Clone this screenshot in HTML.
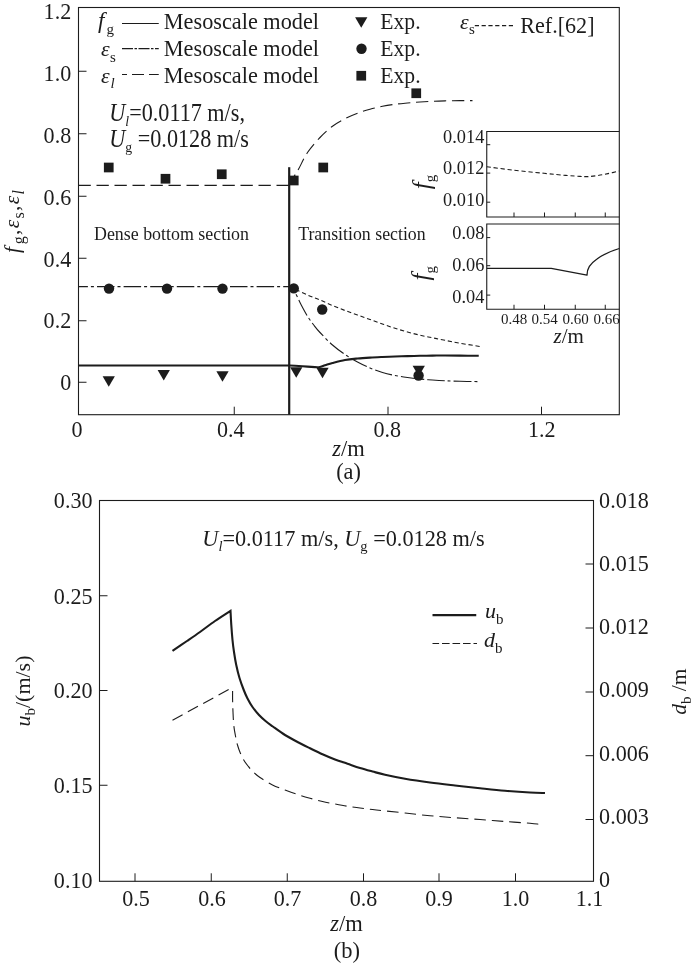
<!DOCTYPE html>
<html lang="en">
<head>
<meta charset="utf-8">
<title>Figure</title>
<style>
html,body{margin:0;padding:0;background:#fff;}
svg{display:block;}
text{font-family:"Liberation Serif","DejaVu Serif",serif;fill:#1c1c1c;}
</style>
</head>
<body>
<svg width="700" height="965" viewBox="0 0 700 965">
<rect x="0" y="0" width="700" height="965" fill="#fff"/>
<rect x="78.5" y="7.5" width="540.8" height="407.2" fill="none" stroke="#1c1c1c" stroke-width="1.1"/>
<line x1="78.5" y1="71.25" x2="86.5" y2="71.25" stroke="#1c1c1c" stroke-width="1.0"/>
<line x1="78.5" y1="133.75" x2="86.5" y2="133.75" stroke="#1c1c1c" stroke-width="1.0"/>
<line x1="78.5" y1="196.25" x2="86.5" y2="196.25" stroke="#1c1c1c" stroke-width="1.0"/>
<line x1="78.5" y1="258.25" x2="86.5" y2="258.25" stroke="#1c1c1c" stroke-width="1.0"/>
<line x1="78.5" y1="320.75" x2="86.5" y2="320.75" stroke="#1c1c1c" stroke-width="1.0"/>
<line x1="78.5" y1="382.25" x2="86.5" y2="382.25" stroke="#1c1c1c" stroke-width="1.0"/>
<line x1="234.25" y1="414.7" x2="234.25" y2="406.7" stroke="#1c1c1c" stroke-width="1.0"/>
<line x1="388" y1="414.7" x2="388" y2="406.7" stroke="#1c1c1c" stroke-width="1.0"/>
<line x1="541.5" y1="414.7" x2="541.5" y2="406.7" stroke="#1c1c1c" stroke-width="1.0"/>
<text transform="translate(71.2 18.75) scale(0.94 1)" font-size="23.5" text-anchor="end">1.2</text>
<text transform="translate(71.2 80.5) scale(0.94 1)" font-size="23.5" text-anchor="end">1.0</text>
<text transform="translate(71.2 142.5) scale(0.94 1)" font-size="23.5" text-anchor="end">0.8</text>
<text transform="translate(71.2 204.5) scale(0.94 1)" font-size="23.5" text-anchor="end">0.6</text>
<text transform="translate(71.2 267) scale(0.94 1)" font-size="23.5" text-anchor="end">0.4</text>
<text transform="translate(71.2 328.25) scale(0.94 1)" font-size="23.5" text-anchor="end">0.2</text>
<text transform="translate(71.2 390) scale(0.94 1)" font-size="23.5" text-anchor="end">0</text>
<text transform="translate(77 436.5) scale(0.94 1)" font-size="23.5" text-anchor="middle">0</text>
<text transform="translate(230.8 436.5) scale(0.94 1)" font-size="23.5" text-anchor="middle">0.4</text>
<text transform="translate(387.2 436.5) scale(0.94 1)" font-size="23.5" text-anchor="middle">0.8</text>
<text transform="translate(541.8 436.5) scale(0.94 1)" font-size="23.5" text-anchor="middle">1.2</text>
<text x="348.5" y="455.7" font-size="22.5" text-anchor="middle"><tspan font-style="italic">z</tspan>/m</text>
<text x="348.5" y="479" font-size="22.3" text-anchor="middle">(a)</text>
<text transform="translate(18.8 253) rotate(-90)" font-size="21.5" textLength="63" lengthAdjust="spacing"><tspan font-style="italic">f</tspan><tspan font-size="16" dy="5" dx="1.5">g</tspan><tspan dy="-5">,</tspan><tspan font-style="italic">ε</tspan><tspan font-size="16" dy="5">s</tspan><tspan dy="-5">,</tspan><tspan font-style="italic">ε</tspan><tspan font-size="16" font-style="italic" dy="5">l</tspan></text>
<line x1="289.2" y1="167.2" x2="289.2" y2="414.7" stroke="#1c1c1c" stroke-width="2.2"/>
<path d="M78.5,185.4L289,185.4" fill="none" stroke="#1c1c1c" stroke-width="1.1" stroke-dasharray="12.3 5.7" stroke-linecap="butt" stroke-linejoin="round"/>
<path d="M289.25,185.40C289.96,184.08 291.92,180.28 293.50,177.50C295.08,174.72 296.42,172.92 298.75,168.75C301.08,164.58 303.96,157.71 307.50,152.50C311.04,147.29 315.83,141.88 320.00,137.50C324.17,133.12 328.33,129.38 332.50,126.25C336.67,123.12 340.83,120.92 345.00,118.75C349.17,116.58 353.33,114.83 357.50,113.25C361.67,111.67 365.83,110.42 370.00,109.25C374.17,108.08 378.33,107.08 382.50,106.25C386.67,105.42 390.83,104.79 395.00,104.25C399.17,103.71 403.33,103.38 407.50,103.00C411.67,102.62 415.83,102.29 420.00,102.00C424.17,101.71 428.33,101.44 432.50,101.25C436.67,101.06 440.42,100.96 445.00,100.85C449.58,100.74 455.42,100.64 460.00,100.60C464.58,100.56 470.42,100.60 472.50,100.60" fill="none" stroke="#1c1c1c" stroke-width="1.1" stroke-dasharray="12.3 5.7" stroke-linecap="butt" stroke-linejoin="round"/>
<path d="M78.5,286.6L289,286.6" fill="none" stroke="#1c1c1c" stroke-width="1.1" stroke-dasharray="17.5 3 3 3.1" stroke-dashoffset="8.1"/>
<path d="M289.25,286.60C290.21,287.58 293.00,289.43 295.00,292.50C297.00,295.57 299.17,301.04 301.25,305.00C303.33,308.96 305.42,312.92 307.50,316.25C309.58,319.58 311.67,322.29 313.75,325.00C315.83,327.71 316.88,329.17 320.00,332.50C323.12,335.83 328.33,341.33 332.50,345.00C336.67,348.67 340.83,351.67 345.00,354.50C349.17,357.33 353.33,359.75 357.50,362.00C361.67,364.25 365.83,366.25 370.00,368.00C374.17,369.75 378.33,371.25 382.50,372.50C386.67,373.75 390.83,374.67 395.00,375.50C399.17,376.33 403.33,376.92 407.50,377.50C411.67,378.08 415.83,378.58 420.00,379.00C424.17,379.42 428.33,379.71 432.50,380.00C436.67,380.29 440.42,380.53 445.00,380.75C449.58,380.97 454.58,381.16 460.00,381.30C465.42,381.44 474.58,381.55 477.50,381.60" fill="none" stroke="#1c1c1c" stroke-width="1.1" stroke-dasharray="17.5 3 3 3.1" stroke-dashoffset="10"/>
<path d="M289.25,286.80C290.00,287.12 290.71,287.38 293.75,288.75C296.79,290.12 303.12,293.12 307.50,295.00C311.88,296.88 315.83,298.25 320.00,300.00C324.17,301.75 328.33,303.75 332.50,305.50C336.67,307.25 340.83,308.92 345.00,310.50C349.17,312.08 353.33,313.50 357.50,315.00C361.67,316.50 365.83,318.00 370.00,319.50C374.17,321.00 378.33,322.53 382.50,324.00C386.67,325.47 390.83,326.97 395.00,328.30C399.17,329.63 403.33,330.85 407.50,332.00C411.67,333.15 415.83,334.23 420.00,335.20C424.17,336.17 428.33,336.95 432.50,337.80C436.67,338.65 440.42,339.40 445.00,340.30C449.58,341.20 454.17,342.17 460.00,343.20C465.83,344.23 476.67,345.95 480.00,346.50" fill="none" stroke="#1c1c1c" stroke-width="1.1" stroke-dasharray="4.2 2.8" stroke-linecap="butt" stroke-linejoin="round"/>
<path d="M78.5,365.5L289.00,365.50C290.00,365.54 291.92,365.57 295.00,365.75C298.08,365.93 303.54,366.36 307.50,366.60C311.46,366.84 315.83,367.42 318.75,367.20C321.67,366.98 322.71,366.00 325.00,365.30C327.29,364.60 329.17,363.88 332.50,363.00C335.83,362.12 340.83,360.75 345.00,360.00C349.17,359.25 353.33,358.90 357.50,358.50C361.67,358.10 365.83,357.85 370.00,357.60C374.17,357.35 378.33,357.18 382.50,357.00C386.67,356.82 390.83,356.65 395.00,356.50C399.17,356.35 403.33,356.22 407.50,356.10C411.67,355.98 415.83,355.88 420.00,355.80C424.17,355.72 428.33,355.65 432.50,355.60C436.67,355.55 440.42,355.50 445.00,355.50C449.58,355.50 454.38,355.55 460.00,355.60C465.62,355.65 475.62,355.77 478.75,355.80" fill="none" stroke="#1c1c1c" stroke-width="2.1" stroke-linecap="butt" stroke-linejoin="round"/>
<rect x="103.90" y="162.65" width="9.7" height="9.7" fill="#1c1c1c"/>
<rect x="160.65" y="173.90" width="9.7" height="9.7" fill="#1c1c1c"/>
<rect x="216.90" y="169.40" width="9.7" height="9.7" fill="#1c1c1c"/>
<rect x="288.90" y="175.65" width="9.7" height="9.7" fill="#1c1c1c"/>
<rect x="318.40" y="162.65" width="9.7" height="9.7" fill="#1c1c1c"/>
<rect x="411.40" y="88.40" width="9.7" height="9.7" fill="#1c1c1c"/>
<circle cx="109" cy="288.6" r="5.2" fill="#1c1c1c"/>
<circle cx="167" cy="288.6" r="5.2" fill="#1c1c1c"/>
<circle cx="222.5" cy="288.6" r="5.2" fill="#1c1c1c"/>
<circle cx="293.75" cy="288.4" r="5.2" fill="#1c1c1c"/>
<circle cx="322.2" cy="309.5" r="5.2" fill="#1c1c1c"/>
<circle cx="418.6" cy="375.5" r="5.2" fill="#1c1c1c"/>
<path d="M102.60,376.35L114.90,376.35L108.75,386.85Z" fill="#1c1c1c"/>
<path d="M157.60,370.05L169.90,370.05L163.75,380.55Z" fill="#1c1c1c"/>
<path d="M216.35,371.35L228.65,371.35L222.50,381.85Z" fill="#1c1c1c"/>
<path d="M290.10,367.35L302.40,367.35L296.25,377.85Z" fill="#1c1c1c"/>
<path d="M316.35,367.75L328.65,367.75L322.50,378.25Z" fill="#1c1c1c"/>
<path d="M412.60,365.75L424.90,365.75L418.75,376.25Z" fill="#1c1c1c"/>
<text x="98" y="27.8" font-size="23"><tspan font-style="italic">f</tspan><tspan font-size="15" dy="6.5" dx="2">g</tspan></text>
<text x="101" y="56" font-size="22"><tspan font-style="italic">ε</tspan><tspan font-size="15" dy="5.6" dx="0.3">s</tspan></text>
<text x="101" y="83" font-size="22"><tspan font-style="italic">ε</tspan><tspan font-size="15" dy="5.2" dx="0.8" font-style="italic">l</tspan></text>
<line x1="122" y1="23.5" x2="158.75" y2="23.5" stroke="#1c1c1c" stroke-width="1.1"/>
<line x1="122" y1="48.6" x2="158.75" y2="48.6" stroke="#1c1c1c" stroke-width="1.1" stroke-dasharray="11 1.5 2.5 1.5"/>
<line x1="122" y1="74.5" x2="158.75" y2="74.5" stroke="#1c1c1c" stroke-width="1.1" stroke-dasharray="12 5" stroke-dashoffset="7"/>
<text x="163.8" y="28.5" font-size="22.3" text-anchor="start" textLength="155.2" lengthAdjust="spacingAndGlyphs">Mesoscale model</text>
<text x="163.8" y="55.5" font-size="22.3" text-anchor="start" textLength="155.2" lengthAdjust="spacingAndGlyphs">Mesoscale model</text>
<text x="163.8" y="82.6" font-size="22.3" text-anchor="start" textLength="155.2" lengthAdjust="spacingAndGlyphs">Mesoscale model</text>
<path d="M355.10,17.25L367.40,17.25L361.25,27.75Z" fill="#1c1c1c"/>
<circle cx="361.5" cy="48.75" r="5.2" fill="#1c1c1c"/>
<rect x="356.40" y="70.90" width="9.7" height="9.7" fill="#1c1c1c"/>
<text x="380.3" y="28.8" font-size="22.3" text-anchor="start" textLength="40.3" lengthAdjust="spacingAndGlyphs">Exp.</text>
<text x="380.3" y="55.8" font-size="22.3" text-anchor="start" textLength="40.3" lengthAdjust="spacingAndGlyphs">Exp.</text>
<text x="380.3" y="82.8" font-size="22.3" text-anchor="start" textLength="40.3" lengthAdjust="spacingAndGlyphs">Exp.</text>
<text x="460" y="28.6" font-size="22"><tspan font-style="italic">ε</tspan><tspan font-size="15" dy="5.6" dx="0.3">s</tspan></text>
<line x1="474.8" y1="25.6" x2="515.3" y2="25.6" stroke="#1c1c1c" stroke-width="1.1" stroke-dasharray="4.2 2.6"/>
<text x="520.3" y="33.4" font-size="23.4" text-anchor="start" textLength="74.2" lengthAdjust="spacingAndGlyphs">Ref.[62]</text>
<text transform="translate(109.3 120.7) scale(0.917 1)" font-size="24.2"><tspan font-style="italic">U</tspan><tspan font-size="15" dy="5" font-style="italic">l</tspan><tspan dy="-5">=0.0117 m/s,</tspan></text>
<text transform="translate(109.3 146.6) scale(0.917 1)" font-size="24.2"><tspan font-style="italic">U</tspan><tspan font-size="15" dy="5">g</tspan><tspan dy="-5"> =0.0128 m/s</tspan></text>
<text x="94" y="239.7" font-size="17.8" text-anchor="start" textLength="155" lengthAdjust="spacingAndGlyphs">Dense bottom section</text>
<text x="298.2" y="239.7" font-size="17.8" text-anchor="start" textLength="127.5" lengthAdjust="spacingAndGlyphs">Transition section</text>
<path d="M619.3,131.5L486.75,131.5L486.75,217L619.3,217" fill="none" stroke="#1c1c1c" stroke-width="1.1"/>
<path d="M619.3,224L486.75,224L486.75,309.25L619.3,309.25" fill="none" stroke="#1c1c1c" stroke-width="1.1"/>
<line x1="514" y1="217" x2="514" y2="212.5" stroke="#1c1c1c" stroke-width="1.0"/>
<line x1="514" y1="309.25" x2="514" y2="304.75" stroke="#1c1c1c" stroke-width="1.0"/>
<line x1="544.5" y1="217" x2="544.5" y2="212.5" stroke="#1c1c1c" stroke-width="1.0"/>
<line x1="544.5" y1="309.25" x2="544.5" y2="304.75" stroke="#1c1c1c" stroke-width="1.0"/>
<line x1="575.25" y1="217" x2="575.25" y2="212.5" stroke="#1c1c1c" stroke-width="1.0"/>
<line x1="575.25" y1="309.25" x2="575.25" y2="304.75" stroke="#1c1c1c" stroke-width="1.0"/>
<line x1="605.25" y1="217" x2="605.25" y2="212.5" stroke="#1c1c1c" stroke-width="1.0"/>
<line x1="605.25" y1="309.25" x2="605.25" y2="304.75" stroke="#1c1c1c" stroke-width="1.0"/>
<line x1="486.75" y1="144.7" x2="490.25" y2="144.7" stroke="#1c1c1c" stroke-width="1.0"/>
<line x1="486.75" y1="173.1" x2="490.25" y2="173.1" stroke="#1c1c1c" stroke-width="1.0"/>
<line x1="486.75" y1="202.2" x2="490.25" y2="202.2" stroke="#1c1c1c" stroke-width="1.0"/>
<line x1="486.75" y1="237.6" x2="490.25" y2="237.6" stroke="#1c1c1c" stroke-width="1.0"/>
<line x1="486.75" y1="265.7" x2="490.25" y2="265.7" stroke="#1c1c1c" stroke-width="1.0"/>
<line x1="486.75" y1="295.1" x2="490.25" y2="295.1" stroke="#1c1c1c" stroke-width="1.0"/>
<text transform="translate(484.3 143) scale(1.03 1)" font-size="17.8" text-anchor="end">0.014</text>
<text transform="translate(484.3 173.75) scale(1.03 1)" font-size="17.8" text-anchor="end">0.012</text>
<text transform="translate(484.3 205.5) scale(1.03 1)" font-size="17.8" text-anchor="end">0.010</text>
<text transform="translate(484.3 238.75) scale(1.03 1)" font-size="17.8" text-anchor="end">0.08</text>
<text transform="translate(484.3 271.25) scale(1.03 1)" font-size="17.8" text-anchor="end">0.06</text>
<text transform="translate(484.3 302.5) scale(1.03 1)" font-size="17.8" text-anchor="end">0.04</text>
<text x="514" y="324.2" font-size="15" text-anchor="middle">0.48</text>
<text x="544.7" y="324.2" font-size="15" text-anchor="middle">0.54</text>
<text x="575.5" y="324.2" font-size="15" text-anchor="middle">0.60</text>
<text x="606.6" y="324.2" font-size="15" text-anchor="middle">0.66</text>
<text x="568.75" y="342.5" font-size="21" text-anchor="middle"><tspan font-style="italic">z</tspan>/m</text>
<text transform="translate(429.6 189.3) rotate(-90)" font-size="25"><tspan font-style="italic">f</tspan><tspan font-size="15" dy="5.8" dx="0.2">g</tspan></text>
<text transform="translate(429.4 280.6) rotate(-90)" font-size="25"><tspan font-style="italic">f</tspan><tspan font-size="15" dy="5.8" dx="0.2">g</tspan></text>
<path d="M486.75,166.70C490.96,167.25 502.46,168.90 512.00,170.00C521.54,171.10 535.05,172.40 544.00,173.30C552.95,174.20 559.70,174.88 565.70,175.40C571.70,175.92 576.28,176.20 580.00,176.40C583.72,176.60 585.03,176.75 588.00,176.60C590.97,176.45 594.47,176.00 597.80,175.50C601.13,175.00 604.42,174.35 608.00,173.60C611.58,172.85 617.42,171.43 619.30,171.00" fill="none" stroke="#1c1c1c" stroke-width="1.1" stroke-dasharray="4.2 2.8" stroke-linecap="butt" stroke-linejoin="round"/>
<path d="M486.75,268.3L551.25,268.3L587,275.2C587,268 590,264 597,259C603,254.5 611,251 619.3,248.5" fill="none" stroke="#1c1c1c" stroke-width="1.3" stroke-linecap="butt" stroke-linejoin="round"/>
<rect x="99.5" y="500.5" width="494.0" height="380.79999999999995" fill="none" stroke="#1c1c1c" stroke-width="1.1"/>
<line x1="99.5" y1="595.75" x2="107.5" y2="595.75" stroke="#1c1c1c" stroke-width="1.0"/>
<line x1="99.5" y1="690.5" x2="107.5" y2="690.5" stroke="#1c1c1c" stroke-width="1.0"/>
<line x1="99.5" y1="785.25" x2="107.5" y2="785.25" stroke="#1c1c1c" stroke-width="1.0"/>
<line x1="593.5" y1="564" x2="585.5" y2="564" stroke="#1c1c1c" stroke-width="1.0"/>
<line x1="593.5" y1="628" x2="585.5" y2="628" stroke="#1c1c1c" stroke-width="1.0"/>
<line x1="593.5" y1="692" x2="585.5" y2="692" stroke="#1c1c1c" stroke-width="1.0"/>
<line x1="593.5" y1="755.7" x2="585.5" y2="755.7" stroke="#1c1c1c" stroke-width="1.0"/>
<line x1="593.5" y1="819.5" x2="585.5" y2="819.5" stroke="#1c1c1c" stroke-width="1.0"/>
<line x1="135" y1="881.3" x2="135" y2="873.3" stroke="#1c1c1c" stroke-width="1.0"/>
<line x1="211.25" y1="881.3" x2="211.25" y2="873.3" stroke="#1c1c1c" stroke-width="1.0"/>
<line x1="287.25" y1="881.3" x2="287.25" y2="873.3" stroke="#1c1c1c" stroke-width="1.0"/>
<line x1="363.5" y1="881.3" x2="363.5" y2="873.3" stroke="#1c1c1c" stroke-width="1.0"/>
<line x1="439" y1="881.3" x2="439" y2="873.3" stroke="#1c1c1c" stroke-width="1.0"/>
<line x1="515.5" y1="881.3" x2="515.5" y2="873.3" stroke="#1c1c1c" stroke-width="1.0"/>
<text transform="translate(92.5 508.25) scale(0.94 1)" font-size="23.5" text-anchor="end">0.30</text>
<text transform="translate(92.5 604) scale(0.94 1)" font-size="23.5" text-anchor="end">0.25</text>
<text transform="translate(92.5 697.5) scale(0.94 1)" font-size="23.5" text-anchor="end">0.20</text>
<text transform="translate(92.5 792.5) scale(0.94 1)" font-size="23.5" text-anchor="end">0.15</text>
<text transform="translate(92.5 887.5) scale(0.94 1)" font-size="23.5" text-anchor="end">0.10</text>
<text transform="translate(599.1 507.5) scale(0.94 1)" font-size="23.5" text-anchor="start">0.018</text>
<text transform="translate(599.1 570.75) scale(0.94 1)" font-size="23.5" text-anchor="start">0.015</text>
<text transform="translate(599.1 633.75) scale(0.94 1)" font-size="23.5" text-anchor="start">0.012</text>
<text transform="translate(599.1 697) scale(0.94 1)" font-size="23.5" text-anchor="start">0.009</text>
<text transform="translate(599.1 760.5) scale(0.94 1)" font-size="23.5" text-anchor="start">0.006</text>
<text transform="translate(599.1 823.75) scale(0.94 1)" font-size="23.5" text-anchor="start">0.003</text>
<text transform="translate(599.1 887) scale(0.94 1)" font-size="23.5" text-anchor="start">0</text>
<text transform="translate(136 906.1) scale(0.94 1)" font-size="23.5" text-anchor="middle">0.5</text>
<text transform="translate(212 906.1) scale(0.94 1)" font-size="23.5" text-anchor="middle">0.6</text>
<text transform="translate(287.5 906.1) scale(0.94 1)" font-size="23.5" text-anchor="middle">0.7</text>
<text transform="translate(363.5 906.1) scale(0.94 1)" font-size="23.5" text-anchor="middle">0.8</text>
<text transform="translate(439 906.1) scale(0.94 1)" font-size="23.5" text-anchor="middle">0.9</text>
<text transform="translate(515.5 906.1) scale(0.94 1)" font-size="23.5" text-anchor="middle">1.0</text>
<text transform="translate(589.5 906.1) scale(0.94 1)" font-size="23.5" text-anchor="middle">1.1</text>
<text x="346.5" y="930.5" font-size="22.5" text-anchor="middle"><tspan font-style="italic">z</tspan>/m</text>
<text x="346.8" y="958" font-size="22.5" text-anchor="middle">(b)</text>
<text transform="translate(202.3 546.4) scale(0.969 1)" font-size="23"><tspan font-style="italic">U</tspan><tspan font-size="15" dy="5" font-style="italic">l</tspan><tspan dy="-5">=0.0117 m/s, </tspan><tspan font-style="italic">U</tspan><tspan font-size="15" dy="5">g</tspan><tspan dy="-5"> =0.0128 m/s</tspan></text>
<line x1="432.5" y1="615.1" x2="476.25" y2="615.1" stroke="#1c1c1c" stroke-width="2.4"/>
<line x1="432.5" y1="643.5" x2="477" y2="643.5" stroke="#1c1c1c" stroke-width="1.1" stroke-dasharray="7.6 2.9" stroke-dashoffset="1"/>
<text x="485" y="617.5" font-size="22"><tspan font-style="italic">u</tspan><tspan font-size="15" dy="6">b</tspan></text>
<text x="484" y="647" font-size="22"><tspan font-style="italic">d</tspan><tspan font-size="15" dy="6">b</tspan></text>
<text transform="translate(29.7 726.5) rotate(-90)" font-size="22" textLength="71" lengthAdjust="spacing"><tspan font-style="italic">u</tspan><tspan font-size="15" dy="5">b</tspan><tspan dy="-5">/(m/s)</tspan></text>
<text transform="translate(685.8 714.8) rotate(-90)" font-size="21.5"><tspan font-style="italic">d</tspan><tspan font-size="15" dy="5">b</tspan><tspan dy="-5"> /m</tspan></text>
<path d="M172.50,650.80C174.92,649.17 182.42,644.13 187.00,641.00C191.58,637.87 195.33,635.33 200.00,632.00C204.67,628.67 209.92,624.53 215.00,621.00C220.08,617.47 227.92,612.50 230.50,610.80L230.50,610.80C230.63,613.17 230.97,620.13 231.30,625.00C231.63,629.87 232.05,635.50 232.50,640.00C232.95,644.50 233.38,647.83 234.00,652.00C234.62,656.17 235.33,660.67 236.25,665.00C237.17,669.33 238.25,673.83 239.50,678.00C240.75,682.17 242.42,686.58 243.75,690.00C245.08,693.42 246.04,695.67 247.50,698.50C248.96,701.33 250.58,704.25 252.50,707.00C254.42,709.75 256.83,712.67 259.00,715.00C261.17,717.33 263.25,719.12 265.50,721.00C267.75,722.88 269.25,723.92 272.50,726.25C275.75,728.58 280.83,732.38 285.00,735.00C289.17,737.62 293.33,739.79 297.50,742.00C301.67,744.21 305.83,746.21 310.00,748.25C314.17,750.29 318.33,752.38 322.50,754.25C326.67,756.12 330.83,757.92 335.00,759.50C339.17,761.08 343.33,762.33 347.50,763.75C351.67,765.17 355.83,766.71 360.00,768.00C364.17,769.29 368.33,770.38 372.50,771.50C376.67,772.62 379.58,773.54 385.00,774.75C390.42,775.96 397.50,777.46 405.00,778.75C412.50,780.04 421.67,781.38 430.00,782.50C438.33,783.62 446.67,784.54 455.00,785.50C463.33,786.46 471.67,787.38 480.00,788.25C488.33,789.12 496.67,790.04 505.00,790.75C513.33,791.46 523.33,792.12 530.00,792.50C536.67,792.88 542.50,792.92 545.00,793.00" fill="none" stroke="#1c1c1c" stroke-width="2.1" stroke-linecap="butt" stroke-linejoin="miter"/>
<path d="M172.5,720.2L230.5,688.5" fill="none" stroke="#1c1c1c" stroke-width="1.1" stroke-dasharray="11.5 6" stroke-linecap="butt" stroke-linejoin="round"/>
<path d="M232.60,691.00C232.60,692.50 232.53,696.50 232.60,700.00C232.67,703.50 232.81,707.83 233.00,712.00C233.19,716.17 233.37,721.17 233.75,725.00C234.13,728.83 234.68,731.67 235.30,735.00C235.93,738.33 236.67,742.00 237.50,745.00C238.33,748.00 239.26,750.50 240.30,753.00C241.34,755.50 242.47,757.83 243.75,760.00C245.03,762.17 246.54,764.12 248.00,766.00C249.46,767.88 250.50,769.33 252.50,771.25C254.50,773.17 256.67,775.21 260.00,777.50C263.33,779.79 268.33,782.92 272.50,785.00C276.67,787.08 280.83,788.42 285.00,790.00C289.17,791.58 293.33,793.12 297.50,794.50C301.67,795.88 305.83,797.08 310.00,798.25C314.17,799.42 318.33,800.54 322.50,801.50C326.67,802.46 330.83,803.21 335.00,804.00C339.17,804.79 343.33,805.58 347.50,806.25C351.67,806.92 355.83,807.46 360.00,808.00C364.17,808.54 368.33,809.02 372.50,809.50C376.67,809.98 379.58,810.32 385.00,810.90C390.42,811.48 397.50,812.19 405.00,813.00C412.50,813.81 421.67,814.96 430.00,815.75C438.33,816.54 446.67,817.12 455.00,817.75C463.33,818.38 471.67,818.88 480.00,819.50C488.33,820.12 496.67,820.88 505.00,821.50C513.33,822.12 524.38,822.79 530.00,823.25C535.62,823.71 537.29,824.08 538.75,824.25" fill="none" stroke="#1c1c1c" stroke-width="1.1" stroke-dasharray="11.5 6" stroke-linecap="butt" stroke-linejoin="round"/>
</svg>
</body>
</html>
